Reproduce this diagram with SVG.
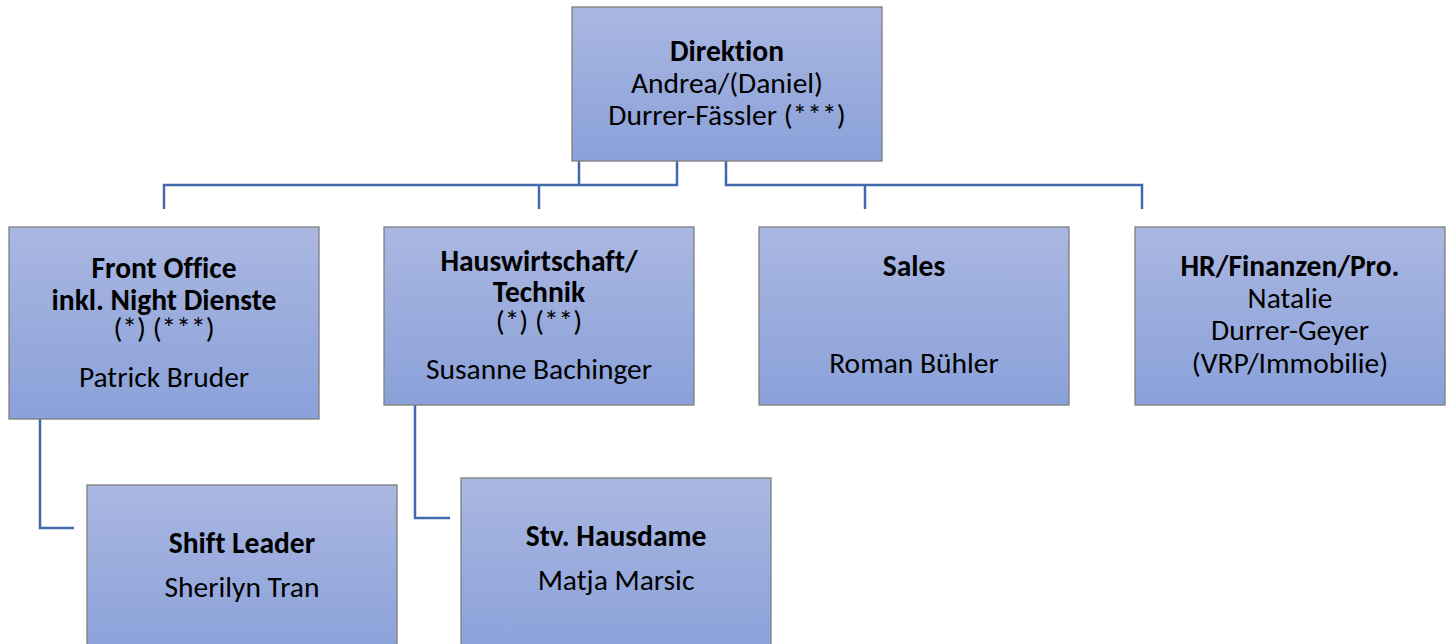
<svg xmlns="http://www.w3.org/2000/svg" width="1451" height="644" viewBox="0 0 1451 644">
<style>
.box{fill:url(#g);stroke:#7f7f7f;stroke-width:1.3}
.c{fill:none;stroke:#4268ad;stroke-width:2.5}
text{font-family:Carlito,Lato,"Liberation Sans",sans-serif;font-size:29.5px;fill:#000;text-anchor:middle;font-variant-ligatures:none}
.b{font-weight:bold}
</style>
<defs>
<linearGradient id="g" x1="0" y1="0" x2="0" y2="1">
<stop offset="0" stop-color="#aab7e1"/>
<stop offset="1" stop-color="#8aa1d9"/>
</linearGradient>
</defs>
<rect width="1451" height="644" fill="#fff"/>
<g id="connectors">
<path class="c" d="M677 161V185H164V209M539 185V209M579 161V185"/>
<path class="c" d="M726 161V185H1142V209M865 185V209"/>
<path class="c" d="M40 419V528H74"/>
<path class="c" d="M415 405V518H450"/>
</g>
<g id="direktion">
<rect class="box" x="572" y="7" width="310" height="154"/>
<text x="727" y="61" class="b">Direktion</text>
<text x="727" y="93">Andrea/(Daniel)</text>
<text x="727" y="125">Durrer-Fässler (***)</text>
</g>
<g id="frontoffice">
<rect class="box" x="9" y="227" width="310" height="192"/>
<text x="164" y="278" class="b">Front Office</text>
<text x="164" y="310" class="b">inkl. Night Dienste</text>
<text x="164" y="338">(*) (***)</text>
<text x="164" y="387">Patrick Bruder</text>
</g>
<g id="hauswirtschaft">
<rect class="box" x="384" y="227" width="310" height="178"/>
<text x="539" y="271" class="b">Hauswirtschaft/</text>
<text x="539" y="302" class="b">Technik</text>
<text x="539" y="331">(*) (**)</text>
<text x="539" y="379">Susanne Bachinger</text>
</g>
<g id="sales">
<rect class="box" x="759" y="227" width="310" height="178"/>
<text x="914" y="276" class="b">Sales</text>
<text x="914" y="373">Roman Bühler</text>
</g>
<g id="hr">
<rect class="box" x="1135" y="227" width="310" height="178"/>
<text x="1290" y="276" class="b">HR/Finanzen/Pro.</text>
<text x="1290" y="308">Natalie</text>
<text x="1290" y="340">Durrer-Geyer</text>
<text x="1290" y="373">(VRP/Immobilie)</text>
</g>
<g id="shiftleader">
<rect class="box" x="87" y="485" width="310" height="170"/>
<text x="242" y="553" class="b">Shift Leader</text>
<text x="242" y="597">Sherilyn Tran</text>
</g>
<g id="hausdame">
<rect class="box" x="461" y="478" width="310" height="177"/>
<text x="616" y="546" class="b">Stv. Hausdame</text>
<text x="616" y="590">Matja Marsic</text>
</g>
</svg>
